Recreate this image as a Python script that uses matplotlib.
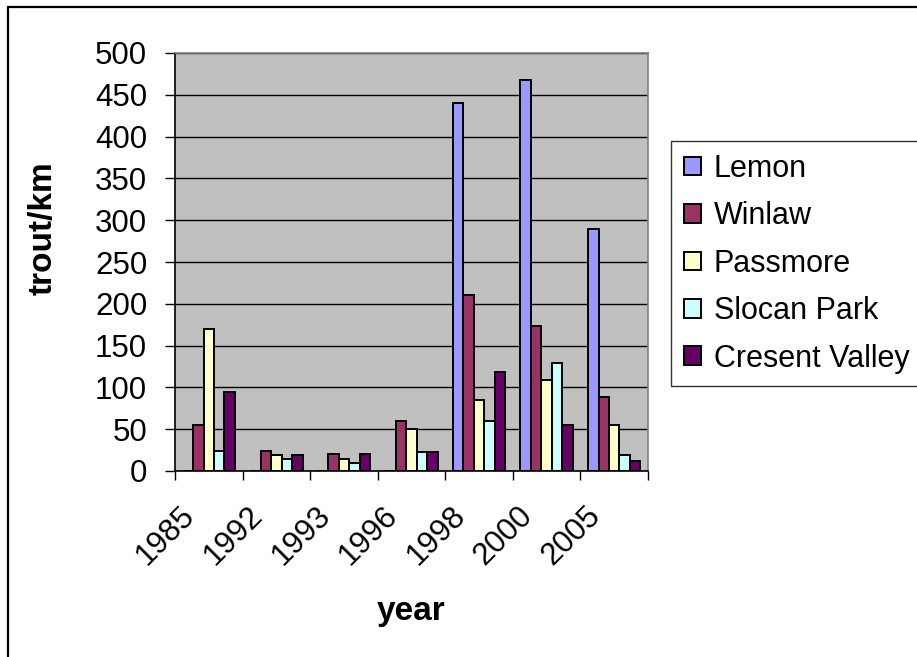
import matplotlib
matplotlib.use("Agg")
import matplotlib.pyplot as plt
from matplotlib.patches import Rectangle
import numpy as np

plt.rcParams['font.family'] = ['Liberation Sans', 'DejaVu Sans']

years = ['1985', '1992', '1993', '1996', '1998', '2000', '2005']
sites = ['Lemon', 'Winlaw', 'Passmore', 'Slocan Park', 'Cresent Valley']
colors = ['#9999FF', '#993366', '#FFFFCC', '#CCFFFF', '#660066']

lemon = [0, 0, 0, 0, 440, 468, 290]
winlaw = [55, 24, 20, 60, 210, 174, 88]
passmore = [170, 19, 14, 50, 85, 109, 55]
slocan_park = [24, 14, 9, 23, 60, 129, 19]
cresent_valley = [95, 19, 20, 23, 119, 55, 12]
series = [lemon, winlaw, passmore, slocan_park, cresent_valley]

W, H = 917, 657
fig = plt.figure(figsize=(W / 100, H / 100), dpi=100)
ax = fig.add_axes([175 / W, 1 - 471 / H, 473 / W, 418 / H])
ax.set_facecolor('#C0C0C0')

x = np.arange(len(years))
bw = 0.155
for i, (name, vals) in enumerate(zip(sites, series)):
    ax.bar(x + (i - 2) * bw, vals, bw, color=colors[i], edgecolor='black',
           linewidth=1.4, label=name, zorder=3)

ax.set_xlim(-0.5, len(years) - 0.5)
ax.set_ylim(0, 500)
ax.set_yticks(np.arange(0, 501, 50))
ax.grid(axis='y', color='black', linewidth=1.0, zorder=1)
ax.set_axisbelow(True)

# category boundaries get the tick marks, labels sit on minor ticks
ax.set_xticks(np.arange(-0.5, len(years)), [''] * (len(years) + 1))
ax.set_xticks(x - 0.27, years, minor=True)
ax.tick_params(axis='x', which='major', direction='out', length=6.5, width=1, color='black')
ax.tick_params(axis='x', which='minor', length=0, pad=29, labelsize=22.5)
for lab in ax.get_xticklabels(minor=True):
    lab.set_rotation(45)
    lab.set_ha('right')
    lab.set_va('center')
    lab.set_rotation_mode('anchor')
ax.tick_params(axis='y', direction='out', length=7, width=1, pad=13, labelsize=22.5)

for s in ['top', 'right']:
    ax.spines[s].set_color('#808080')
    ax.spines[s].set_linewidth(1.2)
for s in ['left', 'bottom']:
    ax.spines[s].set_color('black')
    ax.spines[s].set_linewidth(1.2)

ax.set_ylabel('trout/km', fontsize=24, fontweight='bold', va='center')
ax.yaxis.set_label_coords(-0.279, 0.58)
ax.set_xlabel('year', fontsize=24, fontweight='bold', va='top')
ax.xaxis.set_label_coords(0.499, -0.30)

leg = fig.legend(loc='upper left', bbox_to_anchor=(671 / W, 1 - 141 / H),
                 bbox_transform=fig.transFigure, borderaxespad=0, frameon=True,
                 fancybox=False, edgecolor='black', fontsize=22,
                 handlelength=0.56, handleheight=0.56, handletextpad=0.42,
                 labelspacing=0.57, borderpad=0.42)
leg.get_frame().set_linewidth(1.0)

# chart area border
fig.add_artist(Rectangle((8 / W, -0.1), 1.2, 1.1 - 7 / H, transform=fig.transFigure,
                         fill=False, edgecolor='black', linewidth=1.6))

fig.savefig('out.png', dpi=100)
